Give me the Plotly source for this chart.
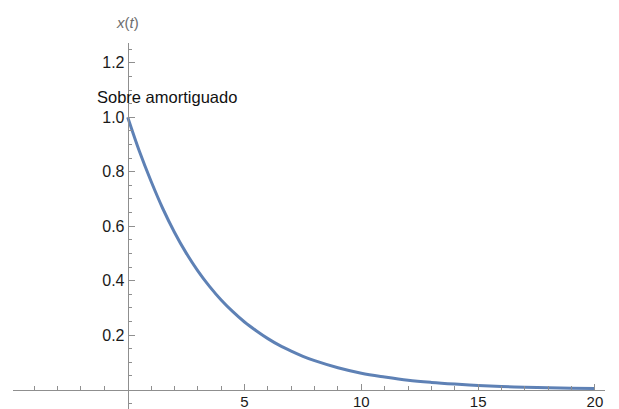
import plotly.graph_objects as go

# Overdamped response x(t), sampled values
t_vals = [0, 0.5, 1, 1.5, 2, 2.5, 3, 3.5, 4, 4.5, 5, 5.5, 6, 6.5, 7, 7.5, 8, 9, 10,
          11, 12, 13, 14, 15, 16, 17, 18, 19, 20]
x_vals = [1.00, 0.875, 0.765, 0.665, 0.578, 0.502, 0.436, 0.379, 0.329, 0.286, 0.248, 0.216,
          0.187, 0.162, 0.141, 0.122, 0.106, 0.080, 0.060, 0.046, 0.034, 0.026, 0.020,
          0.015, 0.011, 0.0085, 0.0064, 0.0048, 0.0037]

x_major = [5, 10, 15, 20]
x_major_text = ["5", "10", "15", "20"]
x_minor = [-4, -3, -2, -1, 1, 2, 3, 4, 6, 7, 8, 9, 11, 12, 13, 14, 16, 17, 18, 19]
y_major = [0.2, 0.4, 0.6, 0.8, 1.0, 1.2]
y_major_text = ["0.2", "0.4", "0.6", "0.8", "1.0", "1.2"]
y_minor = [-0.05, 0.05, 0.1, 0.15, 0.25, 0.3, 0.35, 0.45, 0.5, 0.55, 0.65, 0.7, 0.75,
           0.85, 0.9, 0.95, 1.05, 1.1, 1.15, 1.25]

x_range = [-4.91, 20.43]
y_range = [-0.0716, 1.273]

axis_gray = "#8f8f8f"
font_family = "Liberation Sans, Arial, sans-serif"
y_tick_font = dict(family=font_family, size=16, color="#1a1a1a")
x_tick_font = dict(family=font_family, size=15, color="#1a1a1a")

fig = go.Figure()
fig.add_trace(go.Scatter(
    x=t_vals, y=x_vals, mode="lines",
    line=dict(color="#5E81B5", width=3, shape="spline", smoothing=1.0),
    showlegend=False, hoverinfo="skip",
))

fig.add_annotation(
    x=1.67, y=1.073, xref="x", yref="y", text="Sobre amortiguado",
    showarrow=False, xanchor="center", yanchor="middle",
    font=dict(family=font_family, size=16.5, color="#111111"),
)
fig.add_annotation(
    x=0, y=1, xref="x", yref="paper", text="<i>x</i>(<i>t</i>)",
    showarrow=False, xanchor="center", yanchor="bottom", yshift=10,
    font=dict(family=font_family, size=15, color="#6e6e6e"),
)

x_pos = (0 - y_range[0]) / (y_range[1] - y_range[0])
y_pos = (0 - x_range[0]) / (x_range[1] - x_range[0])

fig.update_layout(
    width=619, height=409,
    margin=dict(l=13, r=14, t=43, b=0, autoexpand=False),
    paper_bgcolor="white", plot_bgcolor="white",
    xaxis=dict(
        range=x_range, anchor="free", position=x_pos, automargin=False,
        showgrid=False, zeroline=False,
        showline=True, linecolor=axis_gray, linewidth=1,
        tickmode="array", tickvals=x_major, ticktext=x_major_text,
        ticks="inside", ticklen=6, tickwidth=1, tickcolor=axis_gray,
        tickfont=x_tick_font, ticklabelstandoff=-2,
        minor=dict(tickmode="array", tickvals=x_minor, ticks="inside", ticklen=3.5,
                   tickwidth=1, tickcolor=axis_gray, showgrid=False),
    ),
    yaxis=dict(
        range=y_range, anchor="free", position=y_pos, automargin=False,
        showgrid=False, zeroline=False,
        showline=True, linecolor=axis_gray, linewidth=1,
        tickmode="array", tickvals=y_major, ticktext=y_major_text,
        ticks="inside", ticklen=6, tickwidth=1, tickcolor=axis_gray,
        tickfont=y_tick_font,
        minor=dict(tickmode="array", tickvals=y_minor, ticks="inside", ticklen=3.5,
                   tickwidth=1, tickcolor=axis_gray, showgrid=False),
    ),
)

fig.write_html("out.html")
